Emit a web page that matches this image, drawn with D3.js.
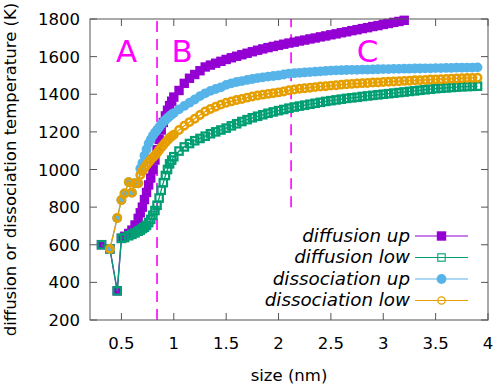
<!DOCTYPE html>
<html>
<head>
<meta charset="utf-8">
<script src="https://cdn.jsdelivr.net/npm/d3@7"></script>
<style>
	body { margin: 0; background: #fff; }
	text { font-family: "DejaVu Sans", sans-serif; }
</style>
</head>
<body>
<div id="chart"></div>
<script>
// cluster size (nm), shared by all four series
var sizes = [0.31, 0.39, 0.46, 0.50, 0.53, 0.57, 0.60, 0.63,
	0.66, 0.68, 0.70, 0.72, 0.74, 0.76, 0.78, 0.80, 0.82, 0.84,
	0.86, 0.88, 0.90, 0.92, 0.94, 0.96, 0.98,
	1.00, 1.05, 1.10, 1.15, 1.20, 1.25, 1.30, 1.35, 1.40, 1.45,
	1.50, 1.55, 1.60, 1.65, 1.70, 1.75, 1.80, 1.85, 1.90, 1.95,
	2.00, 2.05, 2.10, 2.15, 2.20, 2.25, 2.30, 2.35, 2.40, 2.45,
	2.50, 2.55, 2.60, 2.65, 2.70, 2.75, 2.80, 2.85, 2.90, 2.95,
	3.00, 3.05, 3.10, 3.15, 3.20, 3.25, 3.30, 3.35, 3.40, 3.45,
	3.50, 3.55, 3.60, 3.65, 3.70, 3.75, 3.80, 3.85, 3.90];

var diffusionUp = [600, 578, 355, 634, 645, 660, 678, 705,
	740, 770, 800, 840, 878, 918, 955, 1000, 1050, 1105,
	1160, 1210, 1250, 1285, 1315, 1340, 1363,
	1385, 1420, 1458, 1485, 1505, 1525, 1545, 1555, 1565, 1575,
	1585, 1594, 1602, 1610, 1618, 1626, 1634, 1641, 1648, 1654,
	1660, 1666, 1672, 1677, 1683, 1688, 1694, 1699, 1705, 1710,
	1716, 1721, 1727, 1732, 1738, 1743, 1749, 1754, 1760, 1765,
	1771, 1776, 1782, 1787, 1793, null, null, null, null, null,
	null, null, null, null, null, null, null, null, null];

var diffusionLow = [600, 578, 355, 634, 638, 648, 655, 663,
	672, 678, 686, 693, 703, 718, 735, 757, 782, 810,
	848, 890, 930, 968, 1000, 1030, 1050,
	1068, 1098, 1120, 1138, 1153, 1165, 1177, 1190, 1200, 1210,
	1220, 1232, 1243, 1255, 1265, 1275, 1283, 1291, 1299, 1306,
	1313, 1319, 1326, 1332, 1337, 1342, 1347, 1352, 1357, 1362,
	1366, 1370, 1374, 1378, 1381, 1384, 1388, 1391, 1394, 1397,
	1400, 1403, 1406, 1409, 1412, 1415, 1418, 1421, 1424, 1427,
	1430, 1432, 1434, 1436, 1438, 1440, 1441, 1442, 1443];

var dissociationUp = [null, 578, 742, 838, 873, 933, 877, 927,
	927, 1005, 1035, 1075, 1108, 1138, 1160, 1180, 1196, 1210,
	1225, 1240, 1252, 1263, 1274, 1283, 1292,
	1300, 1320, 1338, 1355, 1372, 1390, 1405, 1418, 1428, 1437,
	1450, 1458, 1465, 1470, 1476, 1481, 1486, 1490, 1494, 1497,
	1500, 1505, 1510, 1512, 1514, 1516, 1518, 1520, 1522, 1524,
	1526, 1527, 1528, 1529, 1530, 1530, 1531, 1531, 1532, 1533,
	1534, 1534, 1535, 1535, 1536, 1536, 1537, 1537, 1538, 1538,
	1539, 1539, 1540, 1540, 1541, 1541, 1542, 1542, 1543];

var dissociationLow = [null, 578, 742, 838, 873, 933, 877, 927,
	927, 971, 992, 1008, 1024, 1038, 1052, 1064, 1076, 1088,
	1103, 1117, 1130, 1143, 1156, 1168, 1177,
	1185, 1210, 1233, 1252, 1270, 1290, 1308, 1322, 1334, 1345,
	1355, 1362, 1369, 1375, 1382, 1388, 1393, 1398, 1402, 1406,
	1410, 1415, 1421, 1425, 1429, 1432, 1435, 1438, 1441, 1443,
	1446, 1448, 1451, 1453, 1455, 1457, 1459, 1460, 1462, 1463,
	1465, 1466, 1468, 1469, 1471, 1472, 1474, 1475, 1476, 1478,
	1479, 1480, 1481, 1483, 1484, 1485, 1486, 1487, 1488];

var seriesNames = ["diffusion up", "diffusion low", "dissociation up", "dissociation low"];
var seriesColors = ["#9400d3", "#009e73", "#56b4e9", "#e69f00"];
var seriesMarkers = ["square", "openSquare", "circle", "openCircle"];

var xTicks = [0.5, 1, 1.5, 2, 2.5, 3, 3.5, 4];
var yTicks = [200, 400, 600, 800, 1000, 1200, 1400, 1600, 1800];

// regions: letters and the dashed borders between them
var regionLabels = ["A", "B", "C"];
var regionLabelX = [0.55, 1.08, 2.85];
var regionLabelY = 1570;
var borderX = [0.84, 2.12];
var borderBottom = [200, 800];

var width = 498, height = 388,
		margin = {top: 19, right: 10, bottom: 68, left: 90};

var x = d3.scaleLinear().domain([0.2, 4]).range([margin.left, width - margin.right]);
var y = d3.scaleLinear().domain([200, 1800]).range([height - margin.bottom, margin.top]);

var svg = d3.select("#chart").append("svg")
		.attr("width", width)
		.attr("height", height);

var axisColor = "#555",
		tickLen = 7;

// Ticks on all four sides, pointing inward
var ticks = svg.append("g").attr("class", "ticks")
		.attr("stroke", axisColor)
		.attr("stroke-width", 1);

xTicks.forEach(function(t) {
	ticks.append("line")
			.attr("x1", x(t)).attr("x2", x(t))
			.attr("y1", y(200)).attr("y2", y(200) - tickLen);
	ticks.append("line")
			.attr("x1", x(t)).attr("x2", x(t))
			.attr("y1", y(1800)).attr("y2", y(1800) + tickLen);
});
yTicks.forEach(function(t) {
	ticks.append("line")
			.attr("x1", x(0.2)).attr("x2", x(0.2) + tickLen)
			.attr("y1", y(t)).attr("y2", y(t));
	ticks.append("line")
			.attr("x1", x(4)).attr("x2", x(4) - tickLen)
			.attr("y1", y(t)).attr("y2", y(t));
});

svg.append("g").selectAll("text")
	.data(xTicks)
	.enter().append("text")
		.attr("x", function(d) { return x(d); })
		.attr("y", y(200) + 29)
		.attr("text-anchor", "middle")
		.style("font-size", "16.5px")
		.text(function(d) { return d; });

svg.append("g").selectAll("text")
	.data(yTicks)
	.enter().append("text")
		.attr("x", x(0.2) - 10)
		.attr("y", function(d) { return y(d) + 6; })
		.attr("text-anchor", "end")
		.style("font-size", "16.5px")
		.text(function(d) { return d; });

// Axis titles
svg.append("text")
		.attr("x", (x(0.2) + x(4)) / 2)
		.attr("y", height - 7)
		.attr("text-anchor", "middle")
		.style("font-size", "16.5px")
		.text("size (nm)");

svg.append("text")
		.attr("transform", "translate(16," + (y(200) + y(1800)) / 2 + ") rotate(-90)")
		.attr("text-anchor", "middle")
		.style("font-size", "16.5px")
		.text("diffusion or dissociation temperature (K)");

// Region borders and letters
svg.append("g").selectAll("line")
	.data(borderX)
	.enter().append("line")
		.attr("x1", function(d) { return x(d); })
		.attr("x2", function(d) { return x(d); })
		.attr("y1", function(d, i) { return y(borderBottom[i]); })
		.attr("y2", y(1800))
		.attr("stroke", "#ff00ff")
		.attr("stroke-width", 1.6)
		.attr("stroke-dasharray", "11,7");

svg.append("g").selectAll("text")
	.data(regionLabels)
	.enter().append("text")
		.attr("x", function(d, i) { return x(regionLabelX[i]); })
		.attr("y", y(regionLabelY))
		.attr("text-anchor", "middle")
		.style("font-size", "31px")
		.style("fill", "#ff00ff")
		.text(function(d) { return d; });

// Series
var seriesValues = [diffusionUp, diffusionLow, dissociationUp, dissociationLow];

var line = d3.line()
		.defined(function(d) { return d.v != null; })
		.x(function(d) { return x(d.s); })
		.y(function(d) { return y(d.v); });

// open markers get a heavier outline in the plot so the dense run reads as a band
function drawMarker(g, type, color, cx, cy, sw) {
	if (type === "square" || type === "openSquare") {
		var side = type === "square" ? 9.4 : 7.4;
		g.append("rect")
				.attr("x", cx - side / 2).attr("y", cy - side / 2)
				.attr("width", side).attr("height", side)
				.attr("fill", type === "square" ? color : "none")
				.attr("stroke", type === "square" ? "none" : color)
				.attr("stroke-width", sw);
	} else {
		g.append("circle")
				.attr("cx", cx).attr("cy", cy)
				.attr("r", type === "circle" ? 4.9 : 3.7)
				.attr("fill", type === "circle" ? color : "none")
				.attr("stroke", type === "circle" ? "none" : color)
				.attr("stroke-width", type === "circle" ? sw : sw * 1.15);
	}
}

var plot = svg.append("g").attr("class", "series");

seriesValues.forEach(function(values, k) {
	var pts = sizes.map(function(s, i) { return {s: s, v: values[i]}; });
	var g = plot.append("g");
	g.append("path")
			.datum(pts)
			.attr("d", line)
			.attr("fill", "none")
			.attr("stroke", seriesColors[k])
			.attr("stroke-width", 1.3);
	pts.filter(function(d) { return d.v != null; }).forEach(function(d) {
		drawMarker(g, seriesMarkers[k], seriesColors[k], x(d.s), y(d.v), 2.2);
	});
});

// Border drawn last so it sits above the marks
svg.append("rect")
		.attr("x", x(0.2)).attr("y", y(1800))
		.attr("width", x(4) - x(0.2))
		.attr("height", y(200) - y(1800))
		.attr("fill", "none")
		.attr("stroke", axisColor)
		.attr("stroke-width", 1);

// Legend
var legendRowY = [236, 257.5, 279, 300.5];
var legend = svg.append("g").attr("class", "legend");

seriesNames.forEach(function(name, k) {
	var ly = legendRowY[k];
	legend.append("text")
			.attr("x", 410)
			.attr("y", ly + 5.6)
			.attr("text-anchor", "end")
			.style("font-size", "18.3px")
			.style("font-style", "italic")
			.text(name);
	legend.append("line")
			.attr("x1", 415).attr("x2", 468)
			.attr("y1", ly).attr("y2", ly)
			.attr("stroke", seriesColors[k])
			.attr("stroke-width", 1.2);
	drawMarker(legend, seriesMarkers[k], seriesColors[k], 441.5, ly, 1.1);
});
</script>
</body>
</html>
